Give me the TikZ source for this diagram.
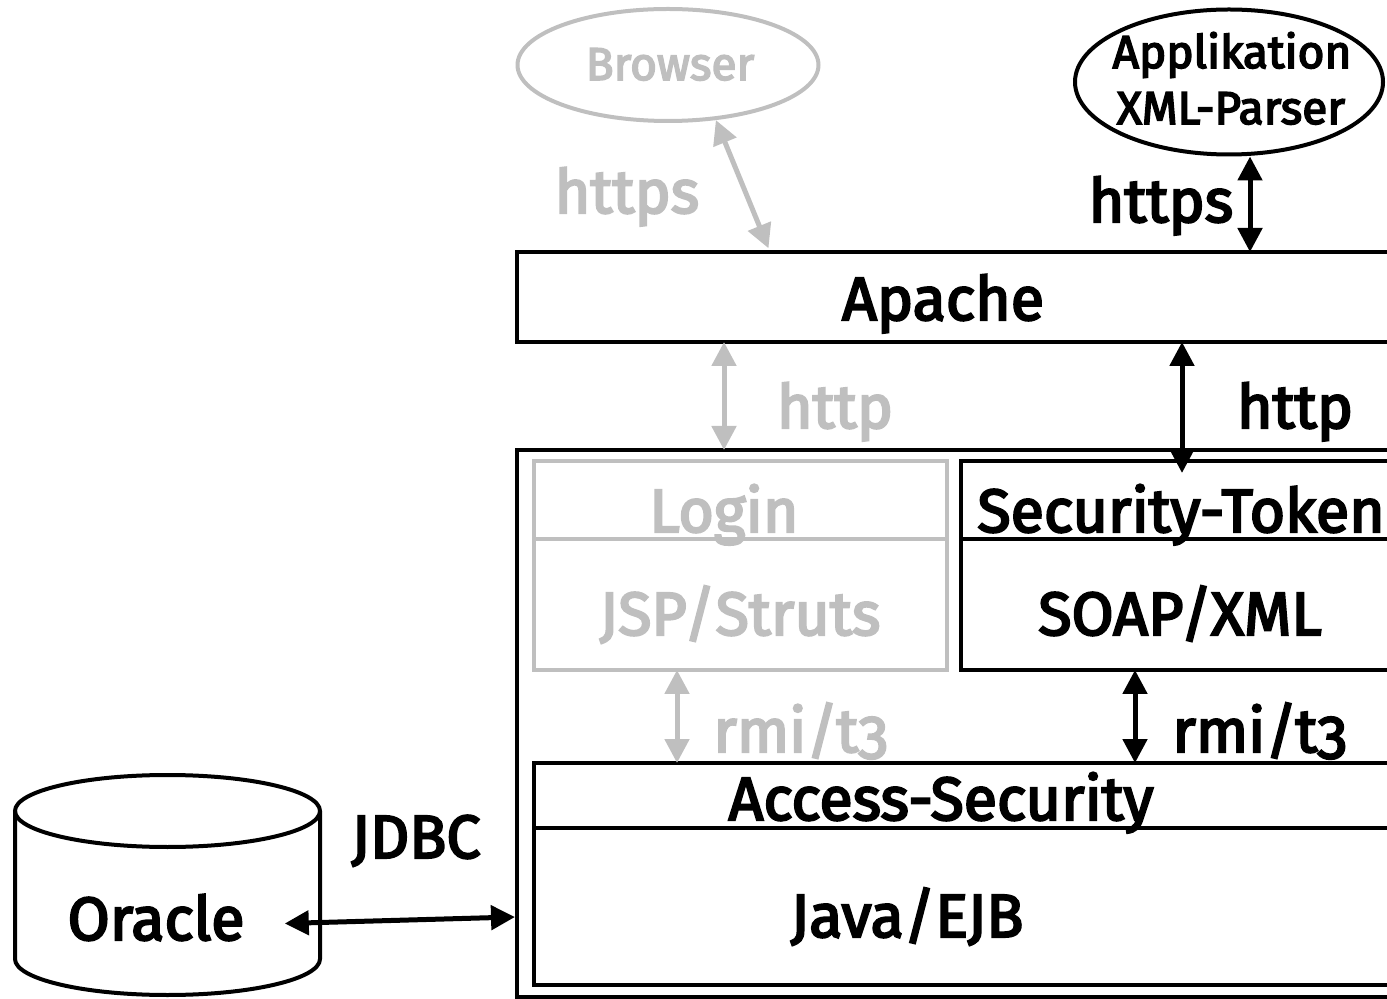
\documentclass[tikz,border=0pt]{standalone}
\usepackage{fontspec}
\setmainfont{Fira Sans}[Numbers=OldStyle]
\newfontfamily\lblfont{Fira Sans}[Numbers=OldStyle, FakeBold=3.5]
\usetikzlibrary{shapes.geometric,arrows.meta,fit}
\definecolor{lg}{RGB}{191,191,191}
\tikzset{
  blk/.style={draw=black, line width=2pt},
  gry/.style={draw=lg, line width=2pt},
  part/.style={rectangle, inner sep=0pt, outer sep=0pt},
  lbl/.style={font=\lblfont\fontsize{30.5}{36}\selectfont, inner sep=0pt, anchor=base},
  smalllbl/.style={font=\lblfont\fontsize{23}{28}\selectfont, inner sep=0pt, anchor=base},
  conn/.style={line width=2.5pt, {Triangle[length=12pt,width=12pt]}-{Triangle[length=12pt,width=12pt]}},
}
\begin{document}
\begin{tikzpicture}[x=0.5pt,y=-0.5pt]
\useasboundingbox (0,0) rectangle (1387,999);
\clip (0,0) rectangle (1387,999);

% top ellipses
\node[gry, ellipse, minimum width=150.5pt, minimum height=56pt, inner sep=0pt] (browser) at (668,65) {};
\node[smalllbl, text=lg] (browsertext) at (670,80) {Browser};
\node[blk, ellipse, minimum width=154pt, minimum height=72.5pt, inner sep=0pt] (appl) at (1229,82) {};
\node[smalllbl] (appl1) at (1232,68) {Applikation};
\node[smalllbl] (appl2) at (1231,124) {XML-Parser};

% Apache
\node[blk, part, fit={(517,252) (1400,342)}] (apache) {};

% server with components
\node[blk, part, fit={(517,450) (1400,997)}] (server) {};
\node[gry, part, fit={(534,461) (947,539)}] (login) {};
\node[gry, part, fit={(534,539) (947,670)}] (jsp) {};
\node[blk, part, fit={(961,461) (1400,539)}] (sectok) {};
\node[blk, part, fit={(961,539) (1400,670)}] (soap) {};
\node[blk, part, fit={(534,763) (1400,828)}] (access) {};
\node[blk, part, fit={(534,828) (1400,985)}] (java) {};

% Oracle cylinder
\draw[line width=2pt] (167.5,811) ellipse [x radius=76.25pt, y radius=18pt];
\draw[line width=2pt] (15,811) -- (15,959)
  arc[start angle=180, end angle=360, x radius=76.25pt, y radius=18pt] -- (320,811);
\node[lbl] (oracle) at (156,940) {Oracle};

% connectors
\coordinate (xbr) at (770,0);
\coordinate (xap) at (1250,0);
\coordinate (xh1) at (724,0);
\coordinate (xh2) at (1182,0);
\coordinate (xr1) at (677,0);
\coordinate (xr2) at (1135,0);
\coordinate (jdbcR) at (515,917);
\draw[conn, color=lg, shorten >=2pt] (browser.311) -- (xbr |- apache.north);
\draw[conn] (xap |- appl.south) -- (xap |- apache.north);
\draw[conn, color=lg] (xh1 |- apache.south) -- (xh1 |- server.north);
\draw[conn, shorten >=-6pt] (xh2 |- apache.south) -- (xh2 |- sectok.north);
\draw[conn, color=lg] (xr1 |- jsp.south) -- (xr1 |- access.north);
\draw[conn] (xr2 |- soap.south) -- (xr2 |- access.north);
\draw[conn] ([xshift=20pt,yshift=-3pt]oracle.east) -- (jdbcR);

% labels
\node[lbl] (apachetext) at (943,320) {Apache};
\node[lbl, text=lg] (lhttps1) at (627,213) {https};
\node[lbl] (lhttps2) at (1161,222) {https};
\node[lbl, text=lg] (lhttp1) at (835,428) {http};
\node[lbl] (lhttp2) at (1295,428) {http};
\node[lbl, text=lg] (llogin) at (724,532) {Login};
\node[lbl, text=lg] (ljsp) at (740,635) {JSP/Struts};
\node[lbl, anchor=base west] (lsec) at (977,532) {Security-Token};
\node[lbl] (lsoap) at (1180,635) {SOAP/XML};
\node[lbl, text=lg, anchor=base west] (lrmi1) at (713,752) {rmi/t3};
\node[lbl, anchor=base west] (lrmi2) at (1172,752) {rmi/t3};
\node[lbl] (laccess) at (941,820) {Access-Security};
\node[lbl] (ljava) at (907,937) {Java/EJB};
\node[lbl] (ljdbc) at (416,858) {JDBC};
\end{tikzpicture}
\end{document}
